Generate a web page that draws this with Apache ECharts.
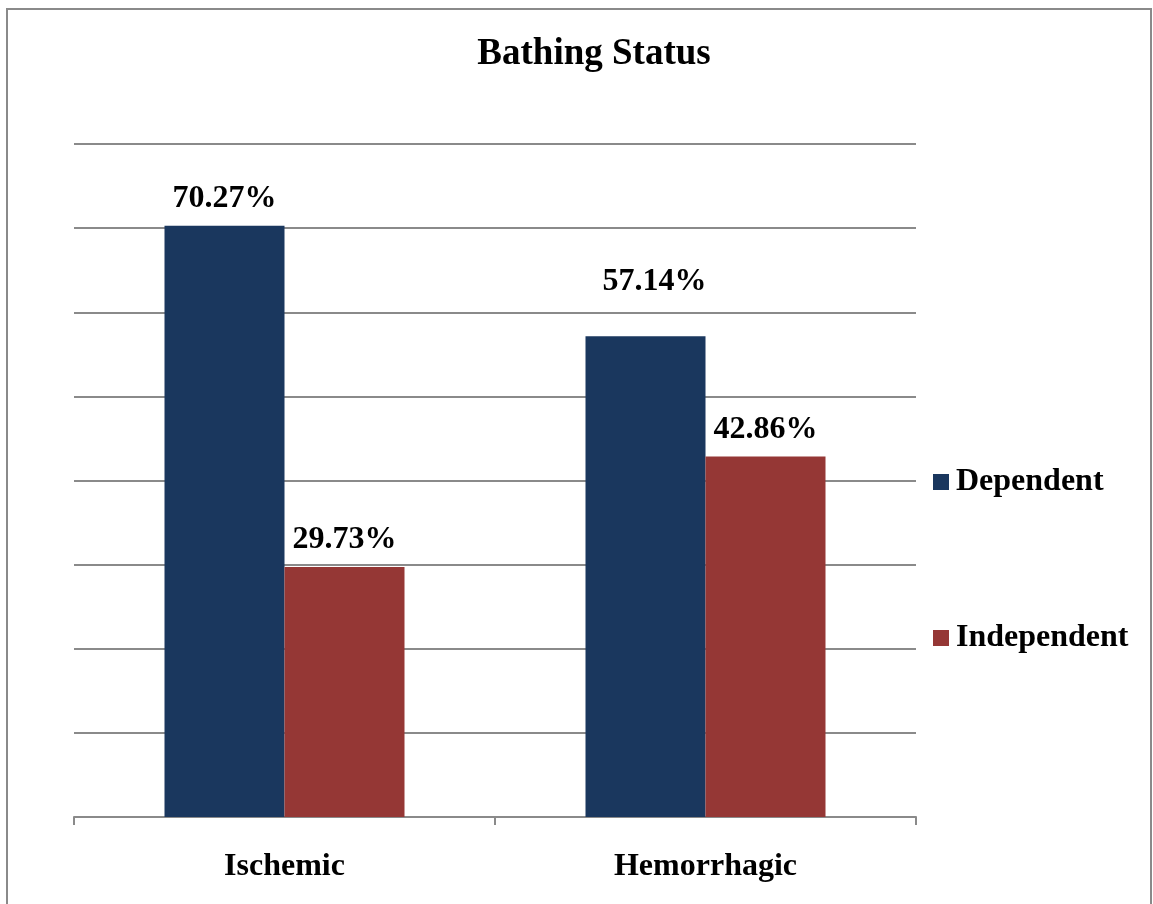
<!DOCTYPE html>
<html>
<head>
<meta charset="utf-8">
<script src="https://cdn.jsdelivr.net/npm/echarts@6/dist/echarts.min.js"></script>
<style>
  html, body { margin: 0; padding: 0; background: #fff; }
  #chart { width: 1153px; height: 904px; }
</style>
</head>
<body>
<div id="chart"></div>
<script>
// Bathing status by stroke type (percent of patients)
const categories = ['Ischemic', 'Hemorrhagic'];
const dependent = [70.27, 57.14];
const independent = [29.73, 42.86];
const seriesNames = ['Dependent', 'Independent'];

const FONT = '"Liberation Serif", "Times New Roman", serif';
const GRID_COLOR = '#8a8a8a';

const labelStyle = {
  show: true,
  position: 'top',
  distance: 11,
  fontFamily: FONT,
  fontWeight: 'bold',
  fontSize: 32,
  color: '#000',
  formatter: p => p.value.toFixed(2) + '%'
};

const chart = echarts.init(document.getElementById('chart'), null, { renderer: 'canvas' });

chart.setOption({
  backgroundColor: '#fff',
  animation: false,
  title: {
    text: 'Bathing Status',
    left: 589,
    top: 31,
    textAlign: 'center',
    textStyle: { fontFamily: FONT, fontWeight: 'bold', fontSize: 37, color: '#000' }
  },
  legend: {
    orient: 'vertical',
    left: 933,
    top: 466,
    padding: 0,
    itemWidth: 16,
    itemHeight: 16,
    itemGap: 124,
    icon: 'rect',
    textStyle: { fontFamily: FONT, fontWeight: 'bold', fontSize: 32, color: '#000', lineHeight: 32, padding: [0, 0, 0, 2] },
    data: seriesNames
  },
  grid: { left: 74, right: 237, top: 144, bottom: 87, containLabel: false },
  xAxis: {
    type: 'category',
    data: categories,
    axisLine: { lineStyle: { color: GRID_COLOR, width: 2 } },
    axisTick: { show: true, length: 8, lineStyle: { color: GRID_COLOR, width: 2 } },
    axisLabel: { margin: 34, fontFamily: FONT, fontWeight: 'bold', fontSize: 32, color: '#000' }
  },
  yAxis: {
    type: 'value',
    min: 0,
    max: 80,
    interval: 10,
    axisLine: { show: false },
    axisTick: { show: false },
    axisLabel: { show: false },
    splitLine: { lineStyle: { color: GRID_COLOR, width: 2 } }
  },
  series: [
    {
      name: seriesNames[0],
      type: 'bar',
      barWidth: 120,
      barGap: '0%',
      itemStyle: { color: '#1a375e' },
      label: labelStyle,
      data: dependent.map((v, i) => i === 1
        ? { value: v, label: { offset: [9, -28] } }
        : v)
    },
    {
      name: seriesNames[1],
      type: 'bar',
      barWidth: 120,
      barGap: '0%',
      itemStyle: { color: '#953735' },
      label: labelStyle,
      data: independent
    }
  ],
  graphic: [
    {
      type: 'rect',
      shape: { x: 7, y: 9, width: 1144, height: 910 },
      style: { fill: 'none', stroke: '#8a8a8a', lineWidth: 2 },
      silent: true
    }
  ]
});
</script>
</body>
</html>
